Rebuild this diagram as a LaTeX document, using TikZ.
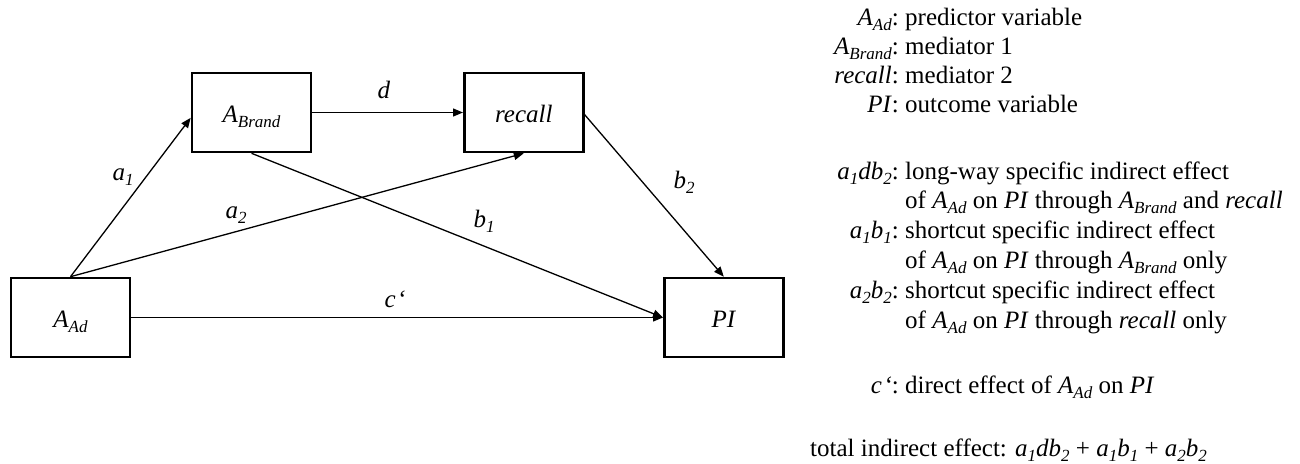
\documentclass[tikz,border=0pt]{standalone}
\usepackage{fontspec}
\setmainfont{Liberation Serif}
\usetikzlibrary{arrows.meta}
\newcommand{\ssub}[1]{\raisebox{-5pt}{\fontsize{17}{17}\selectfont\itshape #1}}
\newcommand{\vAd}{\textit{A}\ssub{Ad}}
\newcommand{\vBrand}{\textit{A}\ssub{Brand}}
\newcommand{\vc}{\textit{c\kern1.5pt‘}}
\begin{document}
\begin{tikzpicture}[x=1pt,y=-1pt,
  box/.style={draw, line width=2.6pt, minimum width=119pt, minimum height=79pt,
    inner sep=0pt, text height=20pt, text depth=0pt, font=\fontsize{25}{30}\selectfont},
  conn/.style={line width=1.3pt, -{Triangle[length=10pt,width=8pt]}},
  lab/.style={font=\fontsize{25}{30}\selectfont, inner sep=0pt, anchor=base},
  lbl/.style={font=\fontsize{25}{30}\selectfont, inner sep=0pt, anchor=base east},
  desc/.style={font=\fontsize{25}{30}\selectfont, inner sep=0pt, anchor=base west}]
\useasboundingbox (0,0) rectangle (1300,463);
% boxes
\node[box] (Ad) at (70.5,317.5) {\vAd};
\node[box] (Brand) at (251.5,112.5) {\vBrand};
\node[box] (recall) at (523.8,112.5) {\textit{recall}};
\node[box] (PI) at (723.8,317.5) {\textit{PI}};
% connectors
\draw[conn] (Ad.north) -- (Brand.185);
\draw[conn] (Ad.north) -- (recall.south);
\draw[conn] (Brand.east) -- (recall.west);
\draw[conn] (Brand.south) -- (PI.west);
\draw[conn] (recall.-2) -- (PI.north);
\draw[conn] (Ad.east) -- (PI.west);
% path labels
\node[lab] (la1) at (123,180) {\textit{a}\ssub{1}};
\node[lab] (la2) at (236,218) {\textit{a}\ssub{2}};
\node[lab] (ld) at (384,98) {\textit{d}};
\node[lab] (lb1) at (484,227) {\textit{b}\ssub{1}};
\node[lab] (lb2) at (684,188) {\textit{b}\ssub{2}};
\node[lab] (lc) at (395,307) {\vc};
% legend block 1
\node[lbl] (k1) at (899,25) {\vAd:};
\node[desc] (t1) at (905,25) {predictor variable};
\node[lbl] (k2) at (899,54) {\vBrand:};
\node[desc] (t2) at (905,54) {mediator 1};
\node[lbl] (k3) at (899,83) {\textit{recall}:};
\node[desc] (t3) at (905,83) {mediator 2};
\node[lbl] (k4) at (899,112) {\textit{PI}:};
\node[desc] (t4) at (905,112) {outcome variable};
% legend block 2
\node[lbl] (k5) at (899,179) {\textit{a}\ssub{1}\textit{db}\ssub{2}:};
\node[desc] (t5) at (905,179) {long-way specific indirect effect};
\node[desc] (t6) at (905,208.8) {of \vAd{} on \textit{PI} through \vBrand{} and \textit{recall}};
\node[lbl] (k7) at (899,238.6) {\textit{a}\ssub{1}\textit{b}\ssub{1}:};
\node[desc] (t7) at (905,238.6) {shortcut specific indirect effect};
\node[desc] (t8) at (905,268.4) {of \vAd{} on \textit{PI} through \vBrand{} only};
\node[lbl] (k9) at (899,298.2) {\textit{a}\ssub{2}\textit{b}\ssub{2}:};
\node[desc] (t9) at (905,298.2) {shortcut specific indirect effect};
\node[desc] (t10) at (905,328) {of \vAd{} on \textit{PI} through \textit{recall} only};
% legend c'
\node[lbl] (k11) at (899,393) {\vc:};
\node[desc] (t11) at (905,393) {direct effect of \vAd{} on \textit{PI}};
% total
\node[desc] (t12) at (810,456) {total indirect effect: \textit{a}\ssub{1}\textit{db}\ssub{2} + \textit{a}\ssub{1}\textit{b}\ssub{1} + \textit{a}\ssub{2}\textit{b}\ssub{2}};
\end{tikzpicture}
\end{document}
